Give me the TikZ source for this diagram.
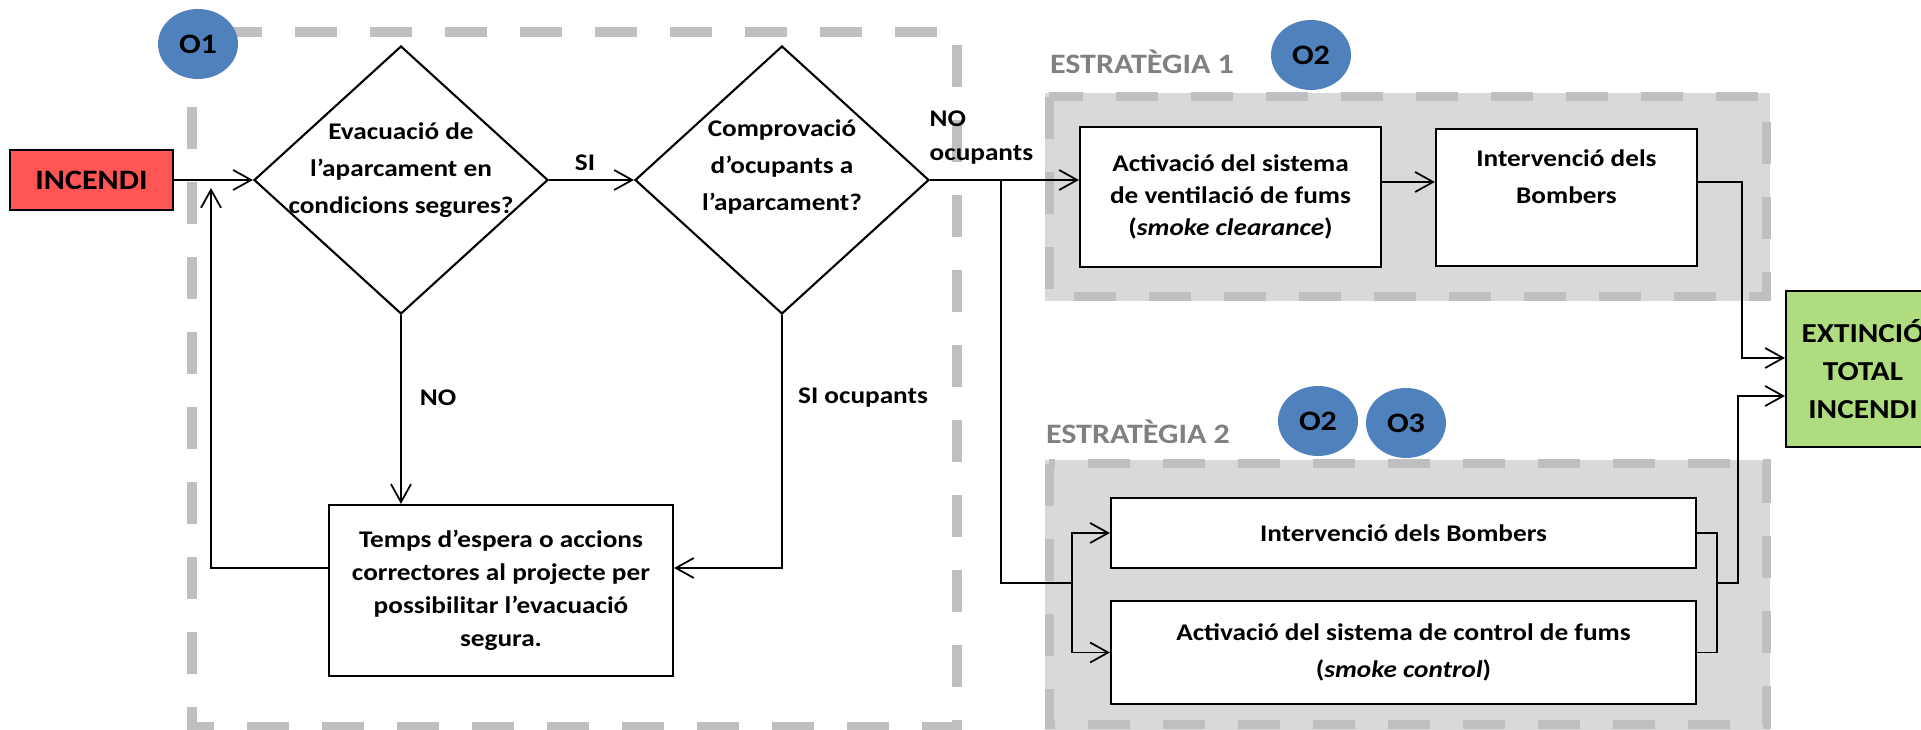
\documentclass[tikz,border=0pt]{standalone}
\usepackage{fontspec}
\setmainfont{Carlito}[FakeStretch=1.14]
\usetikzlibrary{arrows.meta, shapes.geometric, positioning}

\definecolor{dashgray}{RGB}{191,191,191}
\definecolor{boxgray}{RGB}{217,217,217}
\definecolor{textgray}{RGB}{128,128,128}
\definecolor{objblue}{RGB}{79,129,189}
\definecolor{firered}{RGB}{255,85,85}
\definecolor{endgreen}{RGB}{176,220,128}

\begin{document}
\begin{tikzpicture}[
    >={Straight Barb[length=1.8mm, width=2mm]},
    txt/.style={font=\bfseries\fontsize{6.8}{10.5}\selectfont, align=center},
    stepbox/.style={draw, line width=0.6pt, fill=white, txt, inner sep=0pt},
    decision/.style={draw, line width=0.6pt, diamond, fill=white, inner sep=0pt,
        minimum width=2.94cm, minimum height=2.68cm},
    objective/.style={ellipse, fill=objblue, inner sep=0pt, minimum width=0.8cm,
        minimum height=0.7cm, font=\bfseries\fontsize{8}{8}\selectfont},
    zone/.style={draw=dashgray, line width=0.09cm, dash pattern=on 4.2mm off 3.3mm},
    zonetitle/.style={text=textgray, font=\bfseries\fontsize{8}{8}\selectfont},
    conn/.style={line width=0.5pt}
  ]

    \useasboundingbox (0, 0) rectangle (19.21, 7.30);
    \clip (0, 0) rectangle (19.21, 7.30);

    \draw[zone, line width=0.1cm] (1.92, 6.98) rectangle (9.57, 0.03);
    \fill[boxgray] (10.45, 6.37) rectangle (17.70, 4.29);
    \draw[zone] (10.49, 6.33) rectangle (17.66, 4.33);
    \fill[boxgray] (10.45, 2.70) rectangle (17.70, 0);
    \draw[zone] (10.49, 2.66) rectangle (17.66, 0.05);

    \node[zonetitle] (estr1) at (11.42, 6.68) {ESTRATÈGIA 1};
    \node[zonetitle] (estr2) at (11.38, 2.98) {ESTRATÈGIA 2};

    \node[objective] (o1) at (1.98, 6.86) {O1};
    \node[objective] (o2a) at (13.11, 6.75) {O2};
    \node[objective] (o2b) at (13.18, 3.09) {O2};
    \node[objective] (o3) at (14.06, 3.07) {O3};

    \node[stepbox, fill=firered, minimum width=1.63cm, minimum height=0.60cm,
        font=\bfseries\fontsize{8}{8}\selectfont] (incendi) at (0.915, 5.50) {INCENDI};
    \node[decision, label={[txt, yshift=1mm]center:{Evacuació de\\l’aparcament en\\condicions segures?}}]
        (evac) at (4.01, 5.50) {};
    \node[decision, label={[txt, yshift=1.3mm]center:{Comprovació\\d’ocupants a\\l’aparcament?}}]
        (comprov) at (7.82, 5.50) {};
    \node[stepbox, minimum width=3.44cm, minimum height=1.71cm, font=\bfseries\fontsize{6.8}{9.4}\selectfont]
        (espera) at (5.01, 1.395) {Temps d’espera o accions\\correctores al projecte per\\possibilitar l’evacuació\\segura.};

    \node[stepbox, minimum width=3.01cm, minimum height=1.40cm, font=\bfseries\fontsize{6.8}{9}\selectfont]
        (vent) at (12.305, 5.33) {Activació del sistema\\de ventilació de fums\\(\textit{smoke clearance})};
    \node[stepbox, minimum width=2.61cm, minimum height=1.37cm,
        label={[txt, yshift=2.1mm]center:{Intervenció dels\\Bombers}}] (bomb1) at (15.665, 5.325) {};
    \node[stepbox, minimum width=5.85cm, minimum height=0.70cm] (bomb2) at (14.035, 1.97) {Intervenció dels Bombers};
    \node[stepbox, minimum width=5.85cm, minimum height=1.03cm]
        (control) at (14.035, 0.775) {Activació del sistema de control de fums\\(\textit{smoke control})};
    \node[stepbox, fill=endgreen, minimum width=1.54cm, minimum height=1.56cm,
        font=\bfseries\fontsize{7.8}{10.8}\selectfont] (extincio) at (18.63, 3.61) {EXTINCIÓ\\TOTAL\\INCENDI};

    \node[txt] (silbl) at (5.85, 5.67) {SI};
    \node[txt, anchor=west, align=left, inner sep=0pt, font=\bfseries\fontsize{6.8}{9.7}\selectfont]
        (nooclbl) at (9.29, 5.92) {NO\\ocupants};
    \node[txt] (nolbl) at (4.38, 3.32) {NO};
    \node[txt] (sioclbl) at (8.63, 3.32) {SI ocupants};

    \coordinate (back) at (2.11, 1.62);
    \coordinate (backtip) at (2.11, 5.42);
    \coordinate (split) at (10.01, 5.50);
    \coordinate (fork) at (10.72, 1.47);
    \coordinate (join) at (17.17, 1.47);
    \coordinate (rise) at (17.38, 1.47);
    \coordinate (drop) at (17.42, 5.48);

    \draw[conn, ->] (incendi) -- (evac);
    \draw[conn, ->] (evac) -- (comprov);
    \draw[conn, ->] (comprov) -- (comprov.east -| vent.west);
    \draw[conn, ->] (evac.south) -- (evac.south |- espera.north);
    \draw[conn, ->] (comprov.south) |- (espera.east |- back);
    \draw[conn, ->] (espera.west |- back) -- (back) -- (backtip);

    \draw[conn] (split) |- (fork);
    \draw[conn, ->] (fork) |- (bomb2);
    \draw[conn, ->] (fork) |- (control);
    \draw[conn, ->] (vent.east |- drop) -- (bomb1.west |- drop);
    \draw[conn, ->] (bomb1.east |- drop) -- (drop) |- ([yshift=1.1mm]extincio.west);
    \draw[conn] (bomb2) -| (join) |- (control);
    \draw[conn, ->] (join) -- (rise) |- ([yshift=-2.7mm]extincio.west);

\end{tikzpicture}
\end{document}
